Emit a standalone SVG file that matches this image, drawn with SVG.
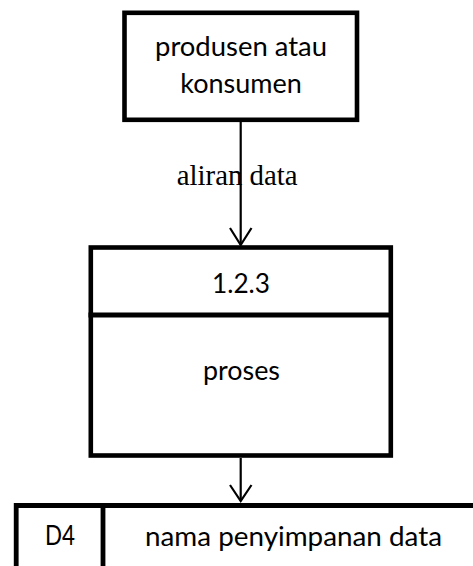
<svg xmlns="http://www.w3.org/2000/svg" width="473" height="566" viewBox="0 0 473 566">
<style>
.box{fill:#fff;stroke:#000;stroke-width:4.6;stroke-linejoin:miter}
.line{fill:none;stroke:#000;stroke-width:4.8}
.t{font-family:Lato,"Open Sans","Liberation Sans",sans-serif;font-size:27px;fill:#000}
.lbl{font-family:"Liberation Serif","Times New Roman",serif;font-size:29px;fill:#000}
.conn{fill:none;stroke:#000;stroke-width:2.2}
</style>
<rect width="473" height="566" fill="#fff"/>
<g id="entity">
<rect class="box" x="124.5" y="12.8" width="232.5" height="107"/>
<text class="t" x="241" y="56" text-anchor="middle" textLength="172" lengthAdjust="spacingAndGlyphs">produsen atau</text>
<text class="t" x="241" y="93" text-anchor="middle">konsumen</text>
</g>
<g id="process">
<rect class="box" x="90.8" y="247.5" width="300" height="208"/>
<line class="line" x1="88.5" y1="315" x2="393" y2="315"/>
<text class="t" x="241" y="293" text-anchor="middle" textLength="58" lengthAdjust="spacingAndGlyphs">1.2.3</text>
<text class="t" x="241.5" y="380" text-anchor="middle" textLength="77" lengthAdjust="spacingAndGlyphs">proses</text>
</g>
<g id="datastore">
<path class="line" d="M16.2,566 V505.5 H473"/>
<line class="line" x1="103" y1="505.5" x2="103" y2="566"/>
<text class="t" x="60" y="545" text-anchor="middle" textLength="30" lengthAdjust="spacingAndGlyphs">D4</text>
<text class="t" x="293.5" y="546" text-anchor="middle" textLength="297" lengthAdjust="spacingAndGlyphs">nama penyimpanan data</text>
</g>
<g id="connectors">
<text class="lbl" x="176.7" y="185" textLength="121" lengthAdjust="spacingAndGlyphs">aliran data</text>
<line class="conn" x1="240.7" y1="122" x2="240.7" y2="245"/>
<polyline class="conn" points="230,228 240.7,245 251.5,228"/>
<line class="conn" x1="240.7" y1="458" x2="240.7" y2="501"/>
<polyline class="conn" points="230,485 240.7,501 251.5,485"/>
</g>
</svg>
